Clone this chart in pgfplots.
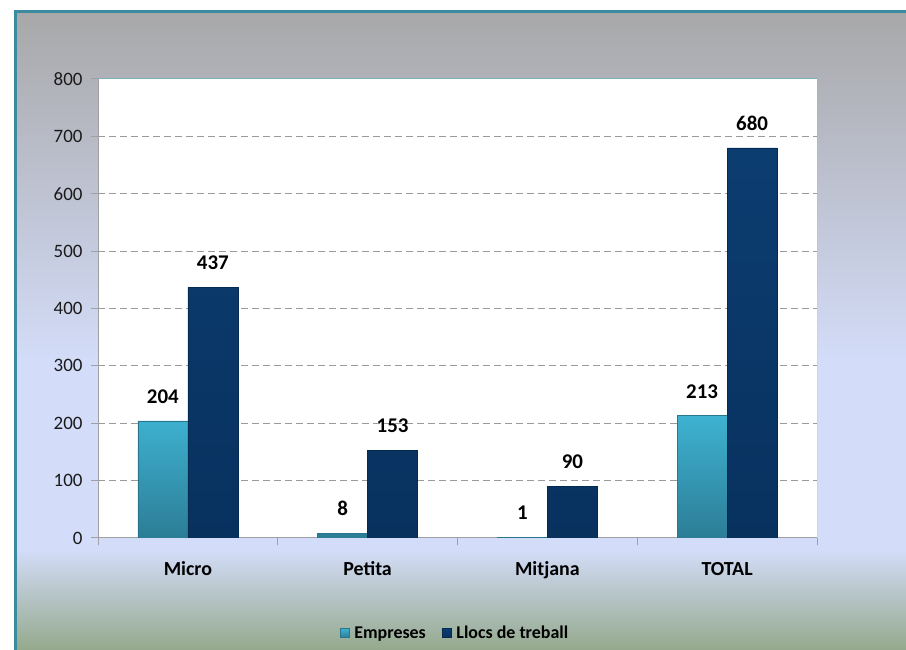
\documentclass[border=0pt]{standalone}
\usepackage{fontspec}
\setmainfont{Carlito}
\usepackage{pgfplots}
\pgfplotsset{compat=1.18}
\pgfplotsset{sqlegend/.style={legend image code/.code={\draw[##1] (0bp,-4.5bp) rectangle (9bp,4.5bp);}}}
\definecolor{bordert}{HTML}{3A8BA0}
\definecolor{bgG}{HTML}{94A98C}
\definecolor{bgB}{HTML}{D3DCF8}
\definecolor{bgT}{HTML}{A8A8A9}
\definecolor{emp1}{HTML}{3EB2D1}
\definecolor{emp2}{HTML}{2C7D96}
\definecolor{empd}{HTML}{28758E}
\definecolor{llo1}{HTML}{0C3D71}
\definecolor{llo2}{HTML}{08315E}
\definecolor{llod}{HTML}{062B52}
\definecolor{axgray}{HTML}{A0A0A0}
\definecolor{gridgray}{HTML}{9A9A9A}
\definecolor{plotedge}{HTML}{7FB0C0}
\definecolor{txt}{HTML}{1A1A1A}
\begin{document}
\begin{tikzpicture}[x=1bp,y=1bp]
\useasboundingbox (0,0) rectangle (906,650);
\fill[white] (0,0) rectangle (906,650);
\shade[bottom color=bgG, top color=bgB] (15,0) rectangle (906,100);
\fill[bgB] (15,99.5) rectangle (906,290.5);
\shade[bottom color=bgB, top color=bgT] (15,290) rectangle (906,638);
\draw[bordert, line width=3bp] (15,0) -- (15,638) -- (906,638);
\begin{axis}[
  at={(98bp,112bp)}, anchor=south west,
  scale only axis, width=719bp, height=459bp,
  /pgf/number format/assume math mode=true,
  axis background/.style={fill=white},
  ybar=0pt, bar width=50bp,
  xmin=-0.5, xmax=3.5, ymin=0, ymax=800,
  xtick={0,1,2,3}, xticklabels={Micro,Petita,Mitjana,TOTAL},
  minor xtick={-0.5,0.5,1.5,2.5,3.5},
  ytick={0,100,...,800},
  axis x line*=bottom, axis y line*=left,
  axis line style={axgray, line width=1bp},
  tick align=outside,
  major x tick style={draw=none},
  minor tick length=7bp, major tick length=7bp,
  every tick/.style={axgray, line width=1bp},
  minor tick style={axgray, line width=1bp},
  ymajorgrids,
  major grid style={gridgray, line width=1bp, dash pattern=on 7bp off 4bp},
  yticklabel style={font=\fontsize{19}{19}\selectfont, text=txt, xshift=-5bp},
  xticklabel style={font=\bfseries\fontsize{20}{20}\selectfont, text=black, yshift=-14bp, text height=13bp},
  nodes near coords,
  every node near coord/.append style={font=\bfseries\fontsize{21}{21}\selectfont, text=black, yshift=14bp},
  legend columns=2,
  legend style={at={(0.4965,-0.207)}, anchor=center, draw=none, fill=none,
    font=\bfseries\fontsize{18}{18}\selectfont, text=black,
    /tikz/every odd column/.append style={column sep=3bp},
    /tikz/every even column/.append style={column sep=14bp}},
]
\addplot[top color=emp1, bottom color=emp2, draw=empd, line width=0.6bp, sqlegend]
  coordinates {(0,204) (1,8) (2,1) (3,213)};
\addplot[top color=llo1, bottom color=llo2, draw=llod, line width=0.6bp, sqlegend]
  coordinates {(0,437) (1,153) (2,90) (3,680)};
\legend{Empreses, Llocs de treball}
\draw[plotedge, line width=1bp] (rel axis cs:0,1) -- (rel axis cs:1,1) -- (rel axis cs:1,0);
\end{axis}
\end{tikzpicture}
\end{document}
